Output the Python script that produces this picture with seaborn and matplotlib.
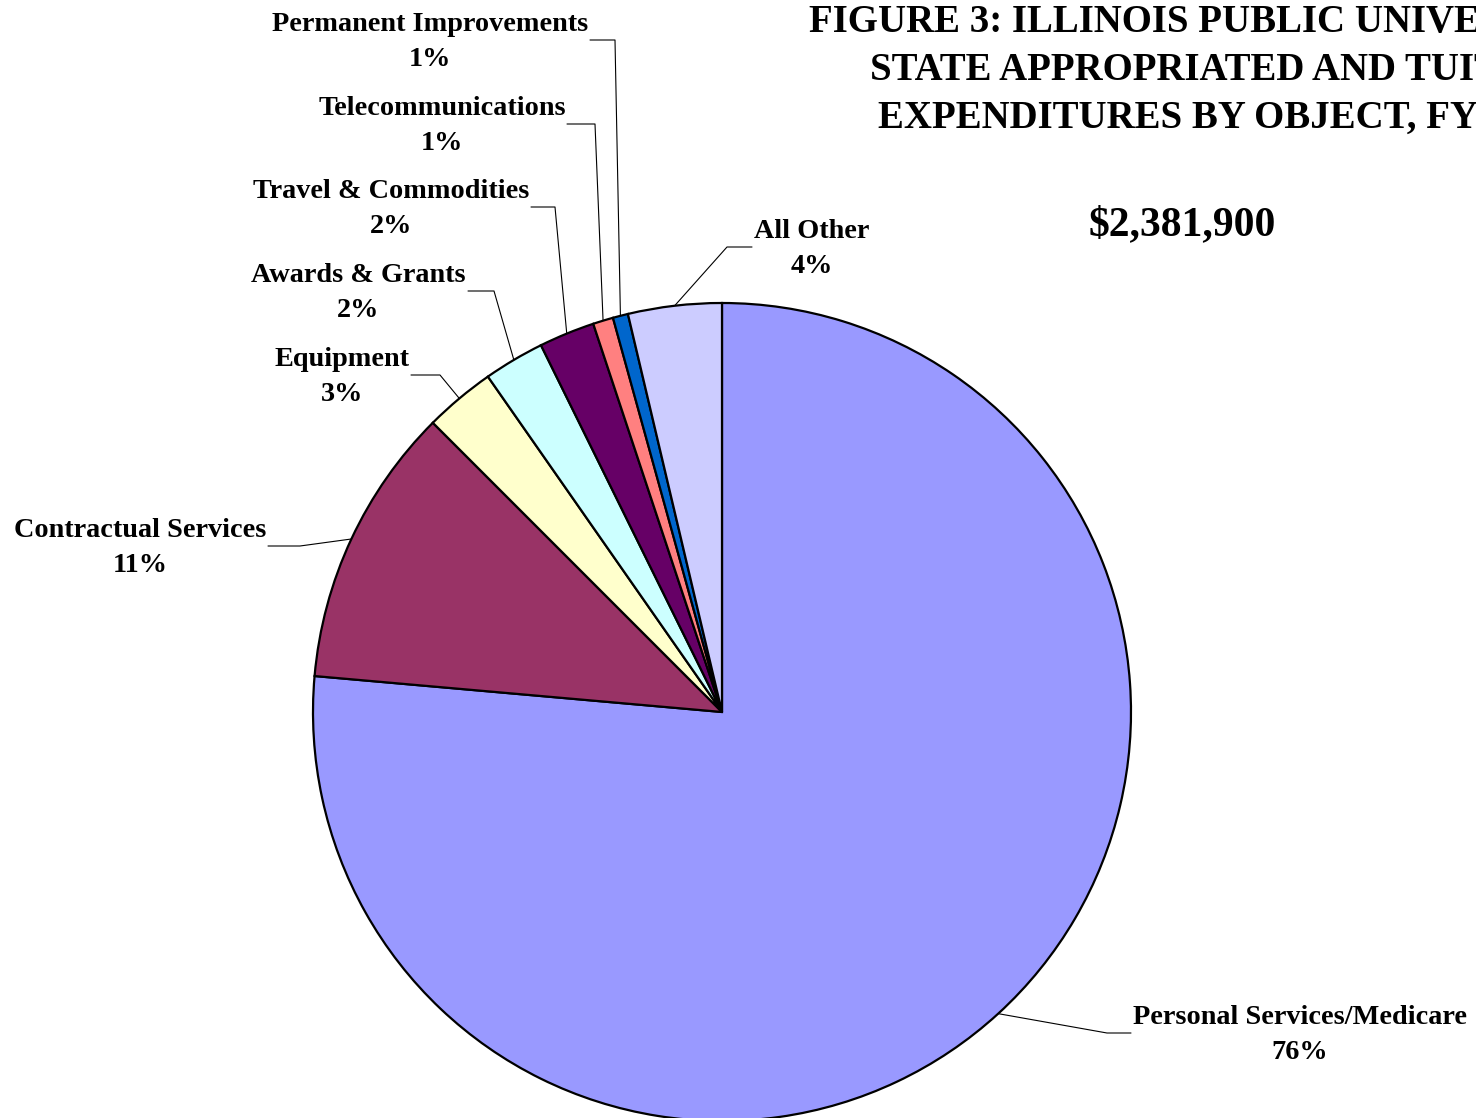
import matplotlib
matplotlib.use("Agg")
import numpy as np
import matplotlib.pyplot as plt
import seaborn as sns

# Expenditures by object (thousands of dollars), clockwise from 12 o'clock
categories = [
    "Personal Services/Medicare",
    "Contractual Services",
    "Equipment",
    "Awards & Grants",
    "Travel & Commodities",
    "Telecommunications",
    "Permanent Improvements",
    "All Other",
]
values = [1819800, 264400, 66700, 57200, 52400, 19100, 14300, 88000]
colors = ["#9999FF", "#993366", "#FFFFCC", "#CCFFFF", "#660066", "#FF8080", "#0066CC", "#CCCCFF"]

title_lines = [
    "FIGURE 3: ILLINOIS PUBLIC UNIVERSITIES",
    "STATE APPROPRIATED AND TUITION",
    "EXPENDITURES BY OBJECT, FY 2003",
]

# label layout in pixels (y from top): text centre, start of leader, elbow x
label_pos = {
    "Personal Services/Medicare": (1300, 1033, 1131, 1107),
    "Contractual Services": (140, 546, 268, 300),
    "Equipment": (342, 375, 411, 440),
    "Awards & Grants": (358, 291, 468, 494),
    "Travel & Commodities": (391, 207, 531, 555),
    "Telecommunications": (442, 124, 567, 595),
    "Permanent Improvements": (430, 40, 590, 615),
    "All Other": (812, 247, 752, 727),
}

sns.set_theme(style="white")
plt.rcParams["font.family"] = ["Liberation Serif", "DejaVu Serif"]
plt.rcParams["font.weight"] = "bold"
plt.rcParams["text.color"] = "black"

W, H = 1476, 1118
fig = plt.figure(figsize=(W / 100, H / 100), dpi=100)
ax = fig.add_axes([0, 0, 1, 1])

cx, cy, r = 722, H - 712, 409
wedges, _ = ax.pie(
    values,
    colors=colors,
    startangle=90,
    counterclock=False,
    center=(cx, cy),
    radius=r,
    wedgeprops=dict(edgecolor="black", linewidth=1.6),
)
ax.set_xlim(0, W)
ax.set_ylim(0, H)
ax.set_aspect("equal")
ax.axis("off")

total = sum(values)
for name, val, w in zip(categories, values, wedges):
    tx, ty, lx, ex_ = label_pos[name]
    pct = round(val / total * 100)
    ax.text(tx, H - ty - 2, f"{name}\n{pct}%", ha="center", va="center",
            multialignment="center", fontsize=20.3, fontweight="bold", linespacing=1.55)
    mid = np.deg2rad((w.theta1 + w.theta2) / 2)
    px, py = cx + r * np.cos(mid), cy + r * np.sin(mid)
    ax.plot([lx, ex_, px], [H - ty, H - ty, py], color="black", lw=0.8, zorder=0.5)

# title is wider than the canvas and runs off the right edge, as in the original
for i, line in enumerate(title_lines):
    ax.text(1221, H - (32 + 48 * i), line, ha="center", va="baseline",
            fontsize=28, fontweight="bold")
ax.text(1182, H - 235, f"${total:,.0f}", ha="center", va="baseline",
        fontsize=30, fontweight="bold")

fig.savefig("out.png", dpi=100)
